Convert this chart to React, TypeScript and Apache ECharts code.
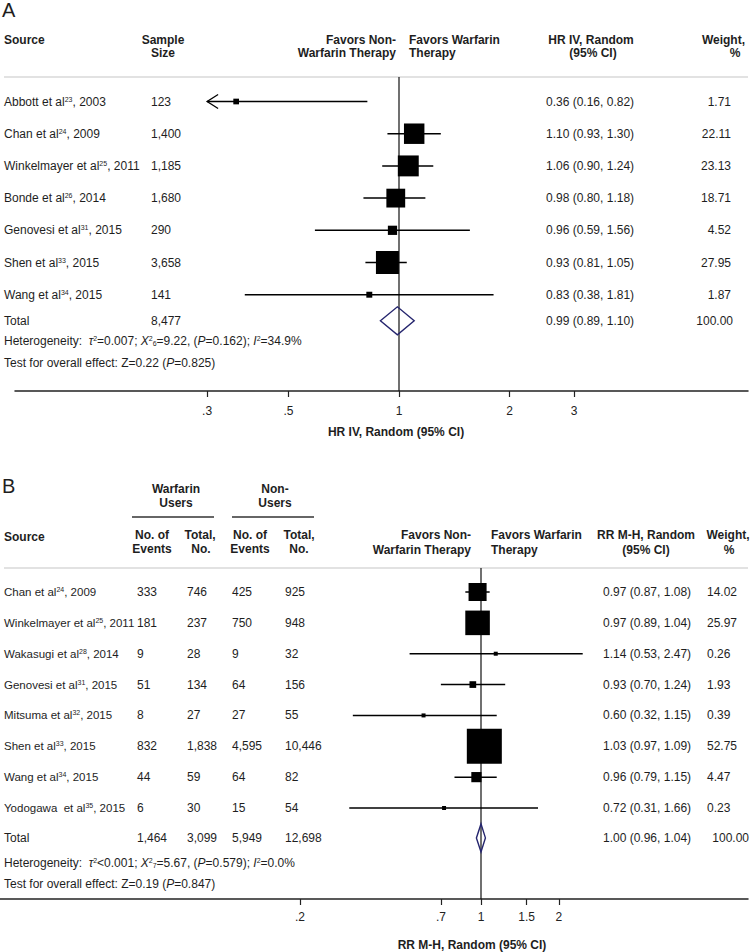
import React, { useEffect, useRef } from "react";
import * as echarts from "echarts";

// ---------------- Panel A data ----------------
const authorsA = ["Abbott et al", "Chan et al", "Winkelmayer et al", "Bonde et al", "Genovesi et al", "Shen et al", "Wang et al"];
const refsA = ["23", "24", "25", "26", "31", "33", "34"];
const yearsA = [2003, 2009, 2011, 2014, 2015, 2015, 2015];
const sampleA = [123, 1400, 1185, 1680, 290, 3658, 141];
const hrA = [0.36, 1.1, 1.06, 0.98, 0.96, 0.93, 0.83];
const loA = [0.16, 0.93, 0.9, 0.8, 0.59, 0.81, 0.38];
const hiA = [0.82, 1.3, 1.24, 1.18, 1.56, 1.05, 1.81];
const weightA = [1.71, 22.11, 23.13, 18.71, 4.52, 27.95, 1.87];
const totalSampleA = 8477;
const totalHrA = [0.99, 0.89, 1.1];
const totalWeightA = 100;
const ticksA = [0.3, 0.5, 1, 2, 3];
const tickLabelsA = [".3", ".5", "1", "2", "3"];
const hetA = { tau: "=0.007", df: "6", chi: "=9.22", p: "=0.162", i2: "=34.9%", z: "0.22", pz: "=0.825" };

// ---------------- Panel B data ----------------
const authorsB = ["Chan et al", "Winkelmayer et al", "Wakasugi et al", "Genovesi et al", "Mitsuma et al", "Shen et al", "Wang et al", "Yodogawa  et al"];
const refsB = ["24", "25", "28", "31", "32", "33", "34", "35"];
const yearsB = [2009, 2011, 2014, 2015, 2015, 2015, 2015, 2015];
const warfEvents = [333, 181, 9, 51, 8, 832, 44, 6];
const warfTotal = [746, 237, 28, 134, 27, 1838, 59, 30];
const nonEvents = [425, 750, 9, 64, 27, 4595, 64, 15];
const nonTotal = [925, 948, 32, 156, 55, 10446, 82, 54];
const rrB = [0.97, 0.97, 1.14, 0.93, 0.6, 1.03, 0.96, 0.72];
const loB = [0.87, 0.89, 0.53, 0.7, 0.32, 0.97, 0.79, 0.31];
const hiB = [1.08, 1.04, 2.47, 1.24, 1.15, 1.09, 1.15, 1.66];
const weightB = [14.02, 25.97, 0.26, 1.93, 0.39, 52.75, 4.47, 0.23];
const totalsB = [1464, 3099, 5949, 12698];
const totalRrB = [1.0, 0.96, 1.04];
const totalWeightB = 100;
const ticksB = [0.2, 0.7, 1, 1.5, 2];
const tickLabelsB = [".2", ".7", "1", "1.5", "2"];
const hetB = { tau: "<0.001", df: "7", chi: "=5.67", p: "=0.579", i2: "=0.0%", z: "0.19", pz: "=0.847" };

// ---------------- styling / layout ----------------
const FONT = '"Liberation Sans", Arial, sans-serif';
const TXT = "#1e1e1e";
const NAVY = "#25256e";
const L = Math.log10;

const RICH: any = {
  sup: { fontSize: 7, fontFamily: FONT, fill: TXT, verticalAlign: "top" },
  sub: { fontSize: 7, fontFamily: FONT, fill: TXT, verticalAlign: "bottom" },
  it: { fontSize: 12, fontFamily: FONT, fill: TXT, fontStyle: "italic" },
};

const fmt = (n: number) => n.toLocaleString("en-US");
const f2 = (n: number) => n.toFixed(2);
const ciText = (m: number, l: number, h: number) => `${f2(m)} (${f2(l)}, ${f2(h)})`;

function txt(text: string, x: number, y: number, o: any = {}) {
  return {
    type: "text",
    x,
    y,
    silent: true,
    style: {
      text,
      textAlign: o.align || "left",
      textVerticalAlign: "middle",
      fontSize: o.size || 12,
      fontFamily: FONT,
      fontWeight: o.bold ? "bold" : "normal",
      fill: TXT,
      rich: RICH,
    },
  };
}

const hetText = (h: any) =>
  `Heterogeneity:  {it|τ}{sup|2}${h.tau}; {it|Χ}{sup|2}{sub|${h.df}}${h.chi}, ({it|P}${h.p}); {it|I}{sup|2}${h.i2}`;
const testText = (h: any) => `Test for overall effect: Z=${h.z} ({it|P}${h.pz})`;

// panel geometry (row units)
const A_YMIN = -0.761, A_YMAX = 8.99, A_TOTAL = 6.81, A_HET = 7.43, A_TEST = 8.12;
const B_YMIN = -0.778, B_YMAX = 9.95, B_TOTAL = 7.97, B_HET = 8.78, B_TEST = 9.46;
const CLIP_A = [0.3, 3];
const SQ_A = 4.35, SQ_B = 4.82;

function axisX(gridIndex: number, min: number, max: number, ticks: number[], labels: string[], margin: number) {
  const vals = ticks.map(L);
  return {
    type: "value",
    gridIndex,
    min,
    max,
    axisLine: { show: true, onZero: false, lineStyle: { color: "#222", width: 1.5 } },
    axisTick: { show: true, customValues: vals, length: 6, lineStyle: { color: "#222", width: 1.2 } },
    axisLabel: {
      show: true,
      customValues: vals,
      margin,
      fontSize: 12,
      fontFamily: FONT,
      color: "#222",
      formatter: (v: number) => {
        const k = vals.findIndex((t) => Math.abs(t - v) < 1e-6);
        return k >= 0 ? labels[k] : "";
      },
    },
    splitLine: { show: false },
  };
}

function axisY(gridIndex: number, min: number, max: number) {
  return { type: "value", gridIndex, min, max, inverse: true, show: false, axisLine: { onZero: false } };
}

function squareRow(api: any, i: number, est: number, lo: number, hi: number, w: number, k: number, clip?: number[]) {
  const y = api.coord([0, i])[1];
  const px = (v: number) => api.coord([L(v), i])[0];
  const loC = clip ? Math.max(lo, clip[0]) : lo;
  const hiC = clip ? Math.min(hi, clip[1]) : hi;
  const x1 = px(loC), x2 = px(hiC), xm = px(est);
  const s = Math.max(4, k * Math.sqrt(w));
  const ch: any[] = [
    { type: "line", shape: { x1, y1: y, x2, y2: y }, style: { stroke: "#000", lineWidth: 1.5 } },
    { type: "rect", shape: { x: xm - s / 2, y: y - s / 2, width: s, height: s }, style: { fill: "#000" } },
  ];
  if (clip && lo < clip[0]) {
    ch.push({ type: "polyline", shape: { points: [[x1 + 11, y - 7], [x1, y], [x1 + 11, y + 7]] }, style: { stroke: "#000", lineWidth: 1.3, fill: null } });
  }
  return { ch, y };
}

function diamond(api: any, row: number, m: number, lo: number, hi: number) {
  const y = api.coord([0, row])[1];
  const px = (v: number) => api.coord([L(v), row])[0];
  const h = 14;
  return {
    type: "polygon",
    shape: { points: [[px(lo), y], [px(m), y - h], [px(hi), y], [px(m), y + h]] },
    style: { stroke: NAVY, lineWidth: 1.4, fill: null },
  };
}

const option: any = {
  animation: false,
  grid: [
    { left: 15, right: 4, top: 77, height: 314 },
    { left: 0, right: 4, top: 568, height: 331 },
  ],
  xAxis: [
    axisX(0, (15 - 399) / 367, (748 - 399) / 367, ticksA, tickLabelsA, 14),
    axisX(1, -481 / 259, (748 - 481) / 259, ticksB, tickLabelsB, 12),
  ],
  yAxis: [axisY(0, A_YMIN, A_YMAX), axisY(1, B_YMIN, B_YMAX)],
  graphic: [
    // Panel A header
    txt("A", 2, 10, { size: 20 }),
    txt("Source", 4, 40, { bold: true }),
    txt("Sample", 163, 40, { bold: true, align: "center" }),
    txt("Size", 163, 53, { bold: true, align: "center" }),
    txt("Favors Non-", 396, 40, { bold: true, align: "right" }),
    txt("Warfarin Therapy", 396, 53, { bold: true, align: "right" }),
    txt("Favors Warfarin", 409, 40, { bold: true }),
    txt("Therapy", 409, 53, { bold: true }),
    txt("HR IV, Random", 591, 40, { bold: true, align: "center" }),
    txt("(95% CI)", 593, 53, { bold: true, align: "center" }),
    txt("Weight,", 745, 40, { bold: true, align: "right" }),
    txt("%", 735, 53, { bold: true, align: "center" }),
    { type: "line", silent: true, shape: { x1: 4, y1: 77, x2: 748, y2: 77 }, style: { stroke: "#e2e2e2", lineWidth: 2 } },
    txt("HR IV, Random (95% CI)", 396, 432, { bold: true, align: "center" }),
    // Panel B header
    txt("B", 2, 486, { size: 20 }),
    txt("Warfarin", 176, 489, { bold: true, align: "center" }),
    txt("Users", 176, 503, { bold: true, align: "center" }),
    txt("Non-", 275, 489, { bold: true, align: "center" }),
    txt("Users", 275, 503, { bold: true, align: "center" }),
    { type: "line", silent: true, shape: { x1: 132, y1: 517, x2: 214, y2: 517 }, style: { stroke: "#333", lineWidth: 1.5 } },
    { type: "line", silent: true, shape: { x1: 232, y1: 517, x2: 314, y2: 517 }, style: { stroke: "#333", lineWidth: 1.5 } },
    txt("Source", 4, 537, { bold: true }),
    txt("No. of", 152, 535, { bold: true, align: "center" }),
    txt("Events", 152, 549, { bold: true, align: "center" }),
    txt("Total,", 200, 535, { bold: true, align: "center" }),
    txt("No.", 201, 549, { bold: true, align: "center" }),
    txt("No. of", 250, 535, { bold: true, align: "center" }),
    txt("Events", 250, 549, { bold: true, align: "center" }),
    txt("Total,", 299, 535, { bold: true, align: "center" }),
    txt("No.", 299, 549, { bold: true, align: "center" }),
    txt("Favors Non-", 471, 535, { bold: true, align: "right" }),
    txt("Warfarin Therapy", 471, 550, { bold: true, align: "right" }),
    txt("Favors Warfarin", 491, 535, { bold: true }),
    txt("Therapy", 491, 550, { bold: true }),
    txt("RR M-H, Random", 646, 535, { bold: true, align: "center" }),
    txt("(95% CI)", 646, 550, { bold: true, align: "center" }),
    txt("Weight,", 728, 535, { bold: true, align: "center" }),
    txt("%", 729, 550, { bold: true, align: "center" }),
    { type: "line", silent: true, shape: { x1: 4, y1: 568, x2: 748, y2: 568 }, style: { stroke: "#e2e2e2", lineWidth: 2 } },
    txt("RR M-H, Random (95% CI)", 472, 945, { bold: true, align: "center" }),
  ],
  series: [
    {
      type: "line",
      xAxisIndex: 0,
      yAxisIndex: 0,
      data: [[0, A_YMIN], [0, A_YMAX]],
      symbol: "none",
      silent: true,
      lineStyle: { color: "#111", width: 1.2 },
      z: 1,
    },
    {
      type: "custom",
      xAxisIndex: 0,
      yAxisIndex: 0,
      data: hrA.map((v, i) => [L(v), i, i]),
      encode: { x: 0, y: 1 },
      silent: true,
      z: 3,
      renderItem: (_p: any, api: any) => {
        const i = api.value(2);
        const { ch, y } = squareRow(api, i, hrA[i], loA[i], hiA[i], weightA[i], SQ_A, CLIP_A);
        ch.push(txt(`${authorsA[i]}{sup|${refsA[i]}}, ${yearsA[i]}`, 4, y));
        ch.push(txt(fmt(sampleA[i]), 151, y));
        ch.push(txt(ciText(hrA[i], loA[i], hiA[i]), 546, y));
        ch.push(txt(f2(weightA[i]), 731, y, { align: "right" }));
        return { type: "group", children: ch };
      },
    },
    {
      type: "custom",
      xAxisIndex: 0,
      yAxisIndex: 0,
      data: [[L(totalHrA[0]), A_TOTAL, 0]],
      encode: { x: 0, y: 1 },
      silent: true,
      z: 3,
      renderItem: (_p: any, api: any) => {
        const y = api.coord([0, A_TOTAL])[1];
        const yh = api.coord([0, A_HET])[1];
        const yt = api.coord([0, A_TEST])[1];
        return {
          type: "group",
          children: [
            diamond(api, A_TOTAL, totalHrA[0], totalHrA[1], totalHrA[2]),
            txt("Total", 4, y),
            txt(fmt(totalSampleA), 151, y),
            txt(ciText(totalHrA[0], totalHrA[1], totalHrA[2]), 546, y),
            txt(f2(totalWeightA), 733, y, { align: "right" }),
            txt(hetText(hetA), 4, yh),
            txt(testText(hetA), 4, yt),
          ],
        };
      },
    },
    {
      type: "line",
      xAxisIndex: 1,
      yAxisIndex: 1,
      data: [[0, B_YMIN], [0, B_YMAX]],
      symbol: "none",
      silent: true,
      lineStyle: { color: "#111", width: 1.2 },
      z: 1,
    },
    {
      type: "custom",
      xAxisIndex: 1,
      yAxisIndex: 1,
      data: rrB.map((v, i) => [L(v), i, i]),
      encode: { x: 0, y: 1 },
      silent: true,
      z: 3,
      renderItem: (_p: any, api: any) => {
        const i = api.value(2);
        const { ch, y } = squareRow(api, i, rrB[i], loB[i], hiB[i], weightB[i], SQ_B);
        ch.push(txt(`${authorsB[i]}{sup|${refsB[i]}}, ${yearsB[i]}`, 4, y, { size: 11.5 }));
        ch.push(txt(fmt(warfEvents[i]), 137, y));
        ch.push(txt(fmt(warfTotal[i]), 187, y));
        ch.push(txt(fmt(nonEvents[i]), 232, y));
        ch.push(txt(fmt(nonTotal[i]), 285, y));
        ch.push(txt(ciText(rrB[i], loB[i], hiB[i]), 603, y));
        ch.push(txt(f2(weightB[i]), 707, y));
        return { type: "group", children: ch };
      },
    },
    {
      type: "custom",
      xAxisIndex: 1,
      yAxisIndex: 1,
      data: [[L(totalRrB[0]), B_TOTAL, 0]],
      encode: { x: 0, y: 1 },
      silent: true,
      z: 3,
      renderItem: (_p: any, api: any) => {
        const y = api.coord([0, B_TOTAL])[1];
        const yh = api.coord([0, B_HET])[1];
        const yt = api.coord([0, B_TEST])[1];
        return {
          type: "group",
          children: [
            diamond(api, B_TOTAL, totalRrB[0], totalRrB[1], totalRrB[2]),
            txt("Total", 4, y),
            txt(fmt(totalsB[0]), 137, y),
            txt(fmt(totalsB[1]), 187, y),
            txt(fmt(totalsB[2]), 232, y),
            txt(fmt(totalsB[3]), 285, y),
            txt(ciText(totalRrB[0], totalRrB[1], totalRrB[2]), 603, y),
            txt(f2(totalWeightB), 749, y, { align: "right" }),
            txt(hetText(hetB), 4, yh),
            txt(testText(hetB), 4, yt),
          ],
        };
      },
    },
  ],
};

export default function App() {
  const ref = useRef<HTMLDivElement>(null);
  useEffect(() => {
    const chart = echarts.init(ref.current!, null, { renderer: "svg" });
    chart.setOption(option);
    return () => chart.dispose();
  }, []);
  return <div ref={ref} style={{ position: "absolute", left: 0, top: 0, width: 752, height: 952, background: "#fff" }} />;
}
